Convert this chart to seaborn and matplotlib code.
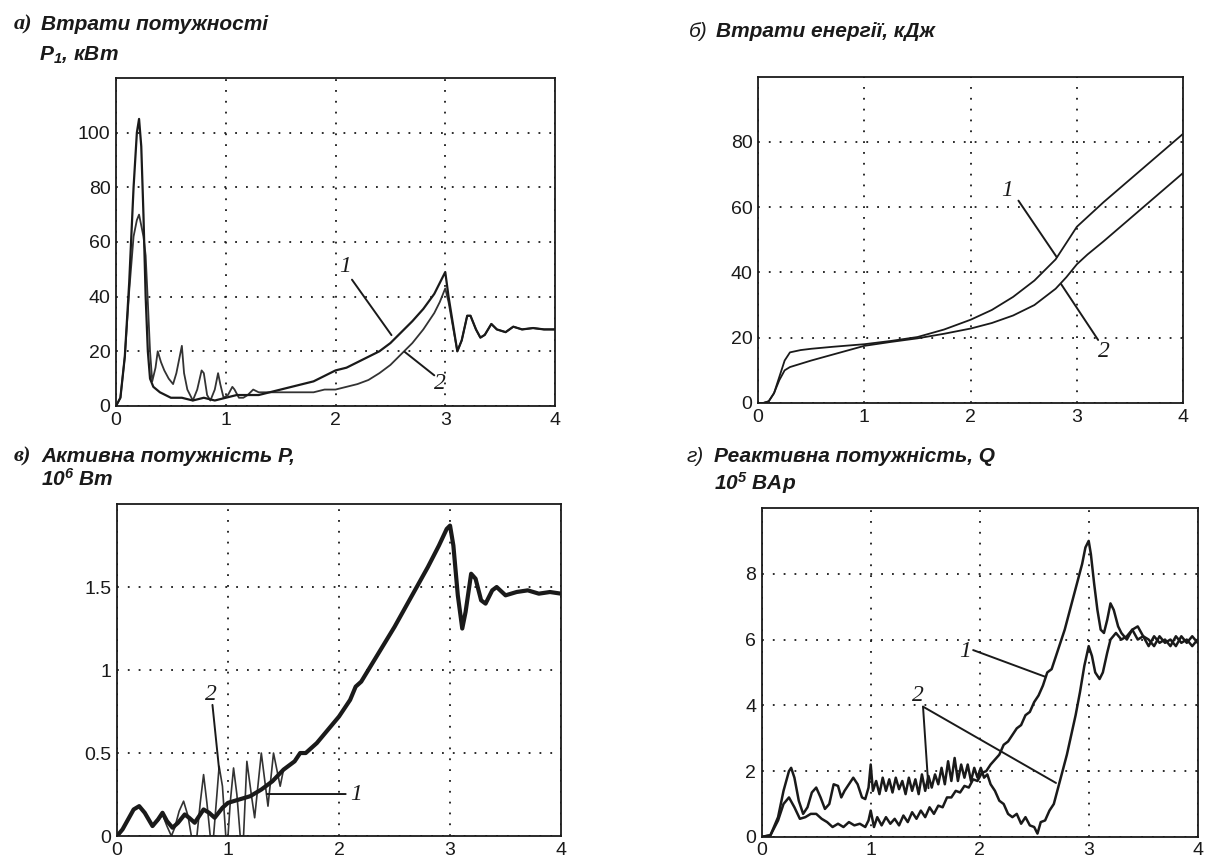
import matplotlib
matplotlib.use("Agg")
import matplotlib.pyplot as plt
import seaborn as sns

# ---------------- data ----------------
# panel a: power losses P1, kW
ta1 = [0, 0.04, 0.08, 0.12, 0.16, 0.19, 0.21, 0.23, 0.25, 0.27, 0.29, 0.31, 0.34, 0.4, 0.5, 0.6, 0.7, 0.8,
       0.9, 1.0, 1.1, 1.2, 1.3, 1.4, 1.5, 1.6, 1.7, 1.8, 1.9, 2.0, 2.1, 2.2, 2.3, 2.4, 2.5, 2.6, 2.7, 2.8,
       2.9, 2.95, 3.0, 3.03, 3.07, 3.11, 3.15, 3.2, 3.23, 3.28, 3.32, 3.36, 3.42, 3.47, 3.55, 3.62, 3.7,
       3.8, 3.9, 4.0]
pa1 = [0, 3, 18, 45, 80, 100, 105, 95, 70, 40, 20, 10, 7, 5, 3, 3, 2, 3,
       2, 3, 4, 4, 4, 5, 6, 7, 8, 9, 11, 13, 14, 16, 18, 20, 23, 27, 31, 35.5,
       41, 45, 49, 40, 30, 20, 24, 33, 33, 28, 25, 26, 30, 28, 27, 29, 28,
       28.5, 28, 28]
ta2 = [0, 0.04, 0.08, 0.12, 0.16, 0.19, 0.21, 0.23, 0.25, 0.27, 0.29, 0.31, 0.33, 0.36, 0.38, 0.41, 0.44,
       0.48, 0.52, 0.55, 0.58, 0.6, 0.62, 0.65, 0.7, 0.74, 0.78, 0.8, 0.83, 0.86, 0.9, 0.93, 0.95, 0.98,
       1.02, 1.06, 1.08, 1.12, 1.16, 1.2, 1.25, 1.3, 1.4, 1.5, 1.6, 1.7, 1.8, 1.9, 2.0, 2.1, 2.2, 2.3,
       2.4, 2.5, 2.6, 2.7, 2.8, 2.9, 2.95, 3.0, 3.03, 3.07, 3.11, 3.15, 3.2, 3.23, 3.28, 3.32, 3.36, 3.42,
       3.47, 3.55, 3.62, 3.7, 3.8, 3.9, 4.0]
pa2 = [0, 3, 18, 42, 62, 68, 70, 66, 62, 55, 38, 20, 9, 14, 20, 16, 13,
       10, 8, 12, 18, 22, 12, 6, 2, 6, 13, 12, 4, 2, 6, 12, 8, 3,
       4, 7, 6, 3, 3, 4, 6, 5, 5, 5, 5, 5, 5, 6, 6, 7, 8, 9.5,
       12, 15, 19, 23, 28, 34, 38, 43, 38, 29, 20, 24, 33, 33, 28, 25, 26, 30,
       28, 27, 29, 28, 28.5, 28, 28]

# panel b: energy losses, kJ
tb = [0, 0.05, 0.1, 0.15, 0.2, 0.25, 0.3, 0.4, 0.5, 0.7, 1.0, 1.25, 1.5, 1.75, 2.0, 2.2, 2.4, 2.6,
      2.8, 2.9, 3.0, 3.1, 3.25, 3.5, 3.75, 4.0]
eb1 = [0, 0, 0.5, 3, 8, 13, 15.5, 16.2, 16.6, 17.2, 18, 19, 20.2, 22.5, 25.5, 28.5, 32.5, 37.5,
       44, 49, 54, 57, 61.5, 68.5, 75.5, 82.5]
eb2 = [0, 0, 0.5, 3, 7, 10, 11, 12, 13, 14.8, 17.5, 18.7, 19.8, 21.2, 22.8, 24.5, 26.8, 30,
       35, 38.5, 42.5, 45.5, 49.5, 56.5, 63.5, 70.5]

# panel c: active power P, 10^6 W
tc1 = [0, 0.05, 0.1, 0.15, 0.2, 0.25, 0.32, 0.37, 0.41, 0.45, 0.5, 0.55, 0.61, 0.65, 0.7, 0.78, 0.83,
       0.88, 0.95, 1.0, 1.05, 1.1, 1.2, 1.3, 1.4, 1.5, 1.6, 1.65, 1.7, 1.8, 1.9, 2.0, 2.1, 2.15, 2.2,
       2.3, 2.4, 2.5, 2.6, 2.7, 2.8, 2.9, 2.97, 3.0, 3.03, 3.07, 3.11, 3.14, 3.19, 3.23, 3.28, 3.32,
       3.38, 3.42, 3.5, 3.6, 3.7, 3.8, 3.9, 4.0]
pc1 = [0, 0.04, 0.1, 0.16, 0.18, 0.14, 0.06, 0.1, 0.14, 0.09, 0.05, 0.08, 0.13, 0.11, 0.08, 0.16, 0.14,
       0.11, 0.17, 0.2, 0.21, 0.22, 0.24, 0.28, 0.33, 0.4, 0.45, 0.5, 0.5, 0.56, 0.64, 0.72, 0.82, 0.9,
       0.93, 1.04, 1.15, 1.26, 1.38, 1.5, 1.62, 1.75, 1.85, 1.87, 1.75, 1.45, 1.25, 1.35, 1.58, 1.55,
       1.42, 1.4, 1.48, 1.5, 1.45, 1.47, 1.48, 1.46, 1.47, 1.46]
tc2 = [0, 0.05, 0.1, 0.15, 0.2, 0.25, 0.32, 0.37, 0.41, 0.45, 0.49, 0.52, 0.56, 0.6, 0.64, 0.67, 0.72,
       0.75, 0.78, 0.81, 0.84, 0.87, 0.9, 0.92, 0.95, 0.98, 1.0, 1.02, 1.05, 1.08, 1.11, 1.14, 1.17,
       1.21, 1.24, 1.3, 1.36, 1.41, 1.47, 1.5]
pc2 = [0, 0.04, 0.1, 0.16, 0.18, 0.14, 0.06, 0.09, 0.13, 0.06, 0.0, 0.05, 0.15, 0.21, 0.12, 0.0, 0.0,
       0.2, 0.37, 0.2, 0.0, 0.0, 0.25, 0.42, 0.3, 0.0, 0.0, 0.2, 0.41, 0.25, 0.0, 0.0, 0.45,
       0.25, 0.11, 0.5, 0.18, 0.5, 0.3, 0.4]

# panel d: reactive power Q, 10^5 VAr
td1 = [0, 0.08, 0.15, 0.2, 0.25, 0.3, 0.35, 0.4, 0.45, 0.5, 0.55, 0.6, 0.65, 0.7, 0.75, 0.8, 0.85, 0.9,
       0.95, 0.98, 1.0, 1.03, 1.06, 1.1, 1.14, 1.18, 1.22, 1.26, 1.3, 1.34, 1.38, 1.42, 1.46, 1.5, 1.54,
       1.58, 1.62, 1.66, 1.7, 1.74, 1.78, 1.82, 1.86, 1.9, 1.94, 1.98, 2.02, 2.06, 2.1, 2.14, 2.18, 2.22,
       2.26, 2.3, 2.34, 2.38, 2.42, 2.46, 2.5, 2.54, 2.58, 2.62, 2.66, 2.7, 2.74, 2.78, 2.82, 2.86, 2.9,
       2.94, 2.97, 3.0, 3.02, 3.05, 3.08, 3.11, 3.14, 3.17, 3.2, 3.23, 3.27, 3.3, 3.35, 3.4, 3.45, 3.5,
       3.55, 3.6, 3.65, 3.7, 3.75, 3.8, 3.85, 3.9, 3.95, 4.0]
qd1 = [0, 0.05, 0.5, 1.0, 1.2, 0.9, 0.55, 0.6, 0.7, 0.7, 0.55, 0.45, 0.3, 0.4, 0.3, 0.45, 0.35, 0.4,
       0.3, 0.5, 0.8, 0.3, 0.6, 0.35, 0.6, 0.4, 0.55, 0.35, 0.65, 0.45, 0.75, 0.55, 0.8, 0.6, 0.9,
       0.7, 0.95, 0.9, 1.2, 1.2, 1.4, 1.35, 1.55, 1.5, 1.75, 1.7, 1.95, 2.0, 2.2, 2.35, 2.5, 2.8,
       2.9, 3.1, 3.3, 3.4, 3.7, 3.8, 4.1, 4.3, 4.6, 5.0, 5.1, 5.5, 5.9, 6.3, 6.8, 7.3, 7.8,
       8.3, 8.8, 9.0, 8.6, 7.7, 6.9, 6.3, 6.2, 6.6, 7.1, 6.9, 6.4, 6.2, 6.0, 6.3, 6.4, 6.1,
       6.0, 5.8, 6.1, 5.9, 6.0, 5.8, 6.1, 5.9, 6.1, 5.9]
td2 = [0, 0.08, 0.15, 0.2, 0.25, 0.27, 0.3, 0.34, 0.38, 0.42, 0.46, 0.5, 0.54, 0.58, 0.62, 0.66, 0.7,
       0.73, 0.76, 0.8, 0.84, 0.88, 0.92, 0.95, 0.98, 1.0, 1.02, 1.05, 1.08, 1.11, 1.14, 1.17, 1.2,
       1.23, 1.26, 1.29, 1.32, 1.35, 1.38, 1.41, 1.44, 1.47, 1.5, 1.53, 1.56, 1.59, 1.62, 1.65, 1.68,
       1.71, 1.74, 1.77, 1.8, 1.83, 1.86, 1.89, 1.92, 1.95, 1.98, 2.01, 2.04, 2.07, 2.1, 2.14, 2.18,
       2.22, 2.26, 2.3, 2.34, 2.38, 2.42, 2.46, 2.5, 2.53, 2.56, 2.6, 2.64, 2.68, 2.72, 2.76, 2.8,
       2.84, 2.88, 2.92, 2.96, 3.0, 3.03, 3.06, 3.1, 3.13, 3.17, 3.2, 3.25, 3.3, 3.35, 3.4, 3.45,
       3.5, 3.55, 3.6, 3.65, 3.7, 3.75, 3.8, 3.85, 3.9, 3.95, 4.0]
qd2 = [0, 0.05, 0.6, 1.4, 2.0, 2.1, 1.8, 1.1, 0.7, 0.9, 1.35, 1.5, 1.2, 0.85, 1.0, 1.6, 1.55,
       1.2, 1.4, 1.6, 1.8, 1.6, 1.2, 1.15, 1.5, 2.2, 1.4, 1.7, 1.3, 1.8, 1.4, 1.75, 1.35,
       1.8, 1.45, 1.7, 1.3, 1.8, 1.4, 1.75, 1.3, 1.9, 1.4, 1.85, 1.5, 1.9, 1.6, 2.1, 1.6,
       2.3, 1.7, 2.4, 1.7, 2.2, 1.8, 2.2, 1.7, 2.1, 1.8, 2.1, 1.8, 1.9, 1.6, 1.4, 1.1,
       1.0, 0.7, 0.6, 0.7, 0.4, 0.6, 0.35, 0.3, 0.1, 0.45, 0.5, 0.8, 1.0, 1.5, 2.0, 2.5,
       3.1, 3.7, 4.4, 5.2, 5.8, 5.5, 5.0, 4.8, 5.0, 5.6, 6.0, 6.2, 6.0, 6.1, 6.3, 6.0,
       6.1, 5.8, 6.1, 5.9, 6.0, 5.8, 6.1, 5.9, 6.0, 5.8, 6.0]

xticks = [0, 1, 2, 3, 4]
yticks_a = [0, 20, 40, 60, 80, 100]
yticks_b = [0, 20, 40, 60, 80]
yticks_c = [0, 0.5, 1, 1.5]
ytick_labels_c = ["0", "0.5", "1", "1.5"]
yticks_d = [0, 2, 4, 6, 8]

# ---------------- style ----------------
sns.set_style("white")
NARROW = ["Liberation Sans Narrow", "Liberation Sans", "DejaVu Sans"]
plt.rcParams["font.family"] = NARROW
plt.rcParams["mathtext.fontset"] = "custom"
plt.rcParams["mathtext.rm"] = "Liberation Sans:italic:bold"
plt.rcParams["mathtext.it"] = "Liberation Sans:italic:bold"
plt.rcParams["mathtext.bf"] = "Liberation Sans:italic:bold"

INK = "#1a1a1a"
fig = plt.figure(figsize=(12.11, 8.61), dpi=100)

boxes = {
    "a": [0.0958, 0.5285, 0.3625, 0.381],
    "b": [0.626, 0.532, 0.351, 0.379],
    "c": [0.0966, 0.029, 0.3667, 0.3856],
    "d": [0.629, 0.028, 0.360, 0.382],
}


def style_axes(ax, ylim, yticks, ylabels=None):
    ax.set_xlim(0, 4)
    ax.set_ylim(*ylim)
    ax.set_xticks(xticks)
    ax.set_xticklabels([str(v) for v in xticks])
    ax.set_yticks(yticks)
    ax.set_yticklabels(ylabels if ylabels else [str(v) for v in yticks])
    ax.tick_params(direction="in", length=4, width=1, labelsize=14, colors=INK, pad=4)
    ax.grid(True, color=INK, linestyle=(0, (1, 5)), linewidth=1.3)
    for s in ax.spines.values():
        s.set_color(INK)
        s.set_linewidth(1.3)
    ax.set_xlabel("")
    ax.set_ylabel("")


def draw(ax, x, y, lw, color=INK):
    sns.lineplot(x=x, y=y, ax=ax, color=color, linewidth=lw, estimator=None, sort=False)


def lead(ax, start, end):
    ax.annotate("", xy=end, xytext=start,
                arrowprops=dict(arrowstyle="-", color=INK, lw=1.4, shrinkA=0, shrinkB=0))


def num(ax, x, y, s):
    ax.text(x, y, s, fontsize=17, family="Liberation Serif", style="italic",
            color=INK, ha="center", va="center")


# panel a
axa = fig.add_axes(boxes["a"])
draw(axa, ta2, pa2, 1.3, "#333333")
draw(axa, ta1, pa1, 1.6)
style_axes(axa, (0, 120), yticks_a)
num(axa, 2.09, 51, "1")
lead(axa, (2.15, 46.2), (2.51, 25.9))
num(axa, 2.95, 8.3, "2")
lead(axa, (2.63, 19.8), (2.9, 11.2))

# panel b
axb = fig.add_axes(boxes["b"])
draw(axb, tb, eb1, 1.3)
draw(axb, tb, eb2, 1.3)
style_axes(axb, (0, 100), yticks_b)
num(axb, 2.34, 65, "1")
lead(axb, (2.45, 62), (2.81, 44.7))
num(axb, 3.25, 15.7, "2")
lead(axb, (3.2, 19.3), (2.85, 36.5))

# panel c
axc = fig.add_axes(boxes["c"])
draw(axc, tc2, pc2, 1.2, "#333333")
draw(axc, tc1, pc1, 3.0)
style_axes(axc, (0, 2), yticks_c, ytick_labels_c)
num(axc, 0.85, 0.85, "2")
lead(axc, (0.86, 0.79), (0.92, 0.4))
num(axc, 2.15, 0.253, "1")
lead(axc, (1.35, 0.253), (2.06, 0.253))

# panel d
axd = fig.add_axes(boxes["d"])
draw(axd, td1, qd1, 1.8)
draw(axd, td2, qd2, 1.8)
style_axes(axd, (0, 10), yticks_d)
num(axd, 1.87, 5.63, "1")
lead(axd, (1.94, 5.68), (2.6, 4.87))
num(axd, 1.43, 4.31, "2")
lead(axd, (1.48, 3.96), (1.53, 1.48))
lead(axd, (1.48, 3.96), (2.7, 1.64))

# titles
TFS = 15
tkw = dict(fontsize=TFS, fontweight="bold", style="italic", color=INK, va="center", ha="left")
fig.text(0.0116, 0.971, "а)", fontsize=16, family="Liberation Serif", style="italic",
         fontweight="bold", color=INK, va="center")
fig.text(0.0339, 0.971, "Втрати потужності", **tkw)
fig.text(0.032, 0.936, "P$_1$, кВт", **tkw)

fig.text(0.569, 0.963, "б)", fontsize=TFS, style="italic", color=INK, va="center")
fig.text(0.591, 0.963, "Втрати енергії, кДж", **tkw)

fig.text(0.0116, 0.470, "в)", fontsize=16, family="Liberation Serif", style="italic",
         fontweight="bold", color=INK, va="center")
fig.text(0.034, 0.470, "Активна потужність P,", **tkw)
fig.text(0.034, 0.4436, "10$^{6}$ Вт", **tkw)

fig.text(0.567, 0.470, "г)", fontsize=TFS, style="italic", color=INK, va="center")
fig.text(0.590, 0.470, "Реактивна потужність, Q", **tkw)
fig.text(0.590, 0.439, "10$^{5}$ ВАр", **tkw)

fig.savefig("out.png", dpi=100, facecolor="white")
